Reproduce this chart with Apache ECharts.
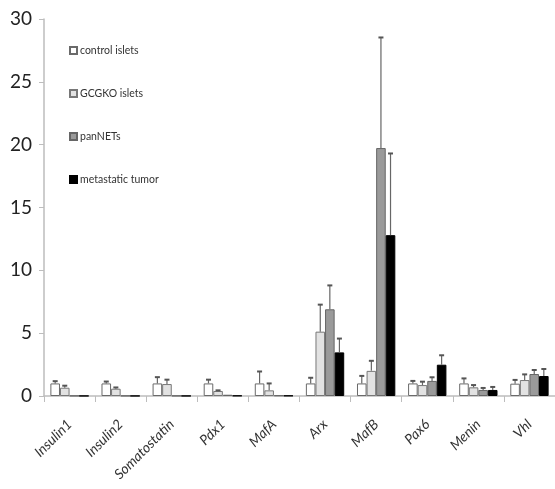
<!DOCTYPE html>
<html><head><meta charset="utf-8">
<script src="https://cdn.jsdelivr.net/npm/echarts@6/dist/echarts.min.js"></script>
<style>html,body{margin:0;padding:0;background:#fff}#c{width:555px;height:489px}</style>
</head><body><div id="c"></div>
<script>
var categories = ['Insulin1','Insulin2','Somatostatin','Pdx1','MafA','Arx','MafB','Pax6','Menin','Vhl'];
var seriesNames = ['control islets','GCGKO islets','panNETs','metastatic tumor'];
var controlVals = [1.0, 1.0, 1.0, 1.0, 1.0, 1.0, 1.0, 1.0, 1.0, 0.98];
var controlErr  = [0.18, 0.15, 0.5, 0.3, 0.95, 0.45, 0.6, 0.2, 0.4, 0.3];
var gcgkoVals   = [0.66, 0.58, 0.95, 0.4, 0.45, 5.12, 2.0, 0.87, 0.69, 1.27];
var gcgkoErr    = [0.16, 0.1, 0.35, 0.05, 0.55, 2.15, 0.8, 0.27, 0.18, 0.45];
var panVals     = [0.02, 0.02, 0.02, 0.1, 0.05, 6.9, 19.73, 1.2, 0.48, 1.75];
var panErr      = [0, 0, 0, 0, 0, 1.9, 8.8, 0.29, 0.16, 0.32];
var metVals     = [0.01, 0.01, 0.01, 0.03, 0.03, 3.47, 12.8, 2.49, 0.48, 1.59];
var metErr      = [0, 0, 0, 0, 0, 1.1, 6.5, 0.75, 0.24, 0.56];
var yTicks = [0, 5, 10, 15, 20, 25, 30];

var vals = [controlVals, gcgkoVals, panVals, metVals];
var errs = [controlErr, gcgkoErr, panErr, metErr];
var fills = ['#ffffff', '#e2e2e2', '#9a9a9a', '#000000'];
var borders = ['#6a6a6a', '#777777', '#666666', '#000000'];
var CATGAP = 0.25;

var series = [];
vals.forEach(function (v, i) {
  series.push({
    name: seriesNames[i], type: 'bar', data: v, barGap: '0%', barCategoryGap: '25%',
    itemStyle: { color: fills[i], borderColor: borders[i], borderWidth: 1 },
    emphasis: { disabled: true }
  });
});
vals.forEach(function (v, i) {
  var data = v.map(function (val, k) { return [k, val, errs[i][k]]; });
  series.push({
    type: 'custom', silent: true, z: 5,
    data: data,
    renderItem: function (params, api) {
      var k = api.value(0), val = api.value(1), e = api.value(2);
      if (!e) return null;
      var base = api.coord([k, val]);
      var top = api.coord([k, val + e]);
      var band = api.size([1, 0])[0];
      var bw = band * (1 - CATGAP) / 4;
      var x = base[0] + (i - 1.5) * bw;
      var cap = 2.5;
      var st = { stroke: '#666', lineWidth: 1.2 };
      return { type: 'group', children: [
        { type: 'line', shape: { x1: x, y1: base[1], x2: x, y2: top[1] }, style: st },
        { type: 'line', shape: { x1: x - cap, y1: top[1], x2: x + cap, y2: top[1] }, style: { stroke: '#555', lineWidth: 2 } }
      ] };
    }
  });
});

var chart = echarts.init(document.getElementById('c'));
chart.setOption({
  animation: false,
  backgroundColor: '#fff',
  grid: { left: 44, top: 19, bottom: 93, width: 513 },
  legend: {
    data: seriesNames, orient: 'vertical', left: 64, top: 40, itemGap: 32,
    itemWidth: 7, itemHeight: 7, icon: 'rect', selectedMode: false,
    textStyle: { fontFamily: 'Lato', fontSize: 10.5, color: '#333', padding: [0, 0, 0, -2] }
  },
  xAxis: {
    type: 'category', data: categories,
    axisLine: { lineStyle: { color: '#bdbdbd', width: 1.5 } },
    axisTick: { show: true, length: 6, lineStyle: { color: '#bdbdbd' } },
    axisLabel: { rotate: 45, margin: 26, fontFamily: 'Lato', fontStyle: 'italic', fontSize: 14, color: '#333', interval: 0, padding: [0, 0, 0, 0] }
  },
  yAxis: {
    type: 'value', min: yTicks[0], max: yTicks[yTicks.length - 1], interval: 5,
    splitLine: { show: false },
    axisLine: { show: true, lineStyle: { color: '#bdbdbd', width: 1.5 } },
    axisTick: { show: true, length: 5, lineStyle: { color: '#bdbdbd' } },
    axisLabel: { fontFamily: 'Lato', fontSize: 19, color: '#222', margin: 12 }
  },
  series: series
});
</script></body></html>
